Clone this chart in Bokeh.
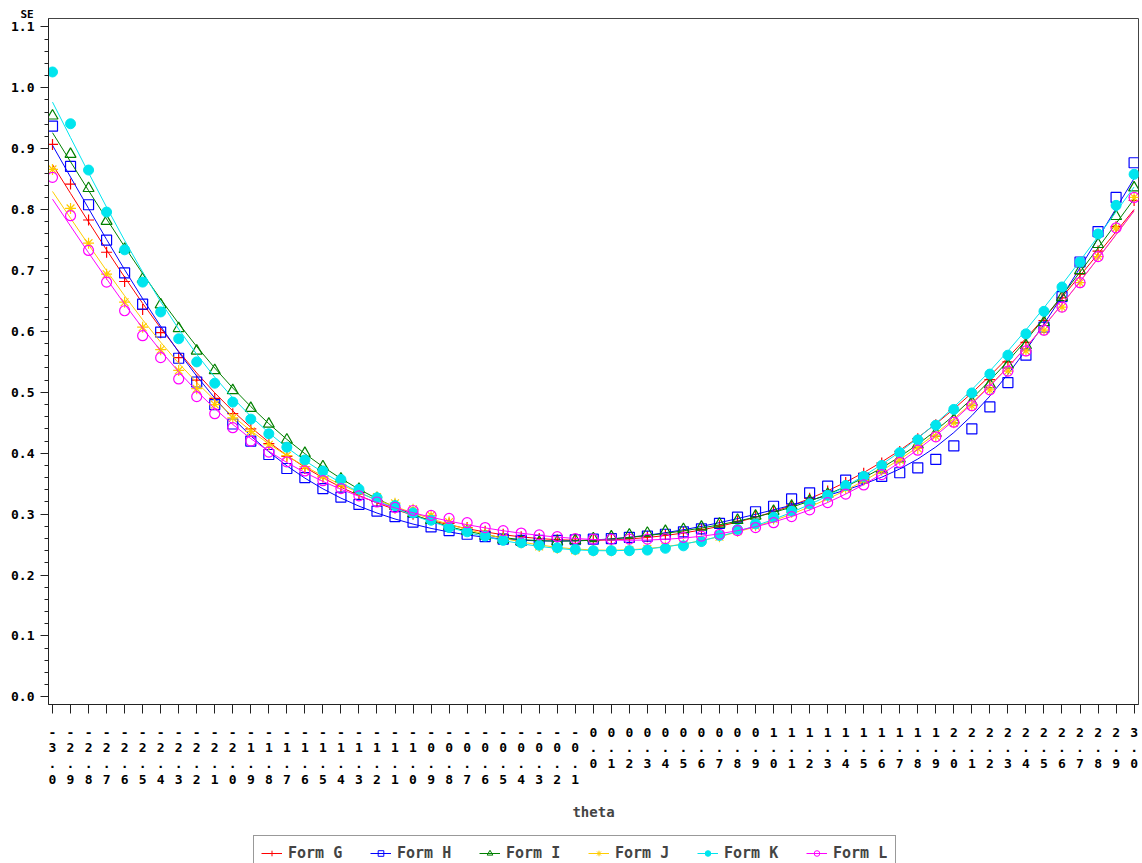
import numpy as np
from bokeh.plotting import figure
from bokeh.layouts import column
from bokeh.models import (Range1d, FixedTicker, SingleIntervalTicker, NumeralTickFormatter,
                          Legend, LegendItem, Title)
from bokeh.embed import file_html
from bokeh.resources import INLINE

theta = [round(i / 10, 1) for i in range(-30, 31)]

form_g = [0.907, 0.842, 0.783, 0.730, 0.682, 0.636, 0.598, 0.557, 0.520, 0.490,
          0.465, 0.440, 0.416, 0.395, 0.375, 0.361, 0.346, 0.333, 0.321, 0.310,
          0.300, 0.292, 0.285, 0.278, 0.272, 0.267, 0.263, 0.260, 0.258, 0.257,
          0.257, 0.258, 0.260, 0.263, 0.266, 0.270, 0.275, 0.281, 0.288, 0.296,
          0.305, 0.315, 0.326, 0.338, 0.352, 0.367, 0.384, 0.403, 0.424, 0.447,
          0.470, 0.495, 0.521, 0.550, 0.582, 0.618, 0.655, 0.694, 0.732, 0.772,
          0.815]
form_h = [0.937, 0.871, 0.808, 0.750, 0.696, 0.645, 0.599, 0.556, 0.517, 0.480,
          0.448, 0.420, 0.398, 0.375, 0.360, 0.342, 0.328, 0.316, 0.305, 0.296,
          0.287, 0.279, 0.273, 0.267, 0.263, 0.259, 0.257, 0.257, 0.257, 0.258,
          0.259, 0.260, 0.262, 0.264, 0.267, 0.271, 0.276, 0.285, 0.295, 0.304,
          0.313, 0.325, 0.335, 0.346, 0.356, 0.359, 0.362, 0.368, 0.376, 0.390,
          0.412, 0.440, 0.476, 0.516, 0.561, 0.607, 0.657, 0.714, 0.764, 0.820,
          0.877]
form_i = [0.954, 0.891, 0.835, 0.781, 0.735, 0.686, 0.644, 0.605, 0.568, 0.536,
          0.503, 0.474, 0.448, 0.422, 0.400, 0.378, 0.358, 0.341, 0.326, 0.313,
          0.301, 0.290, 0.280, 0.272, 0.264, 0.258, 0.255, 0.254, 0.255, 0.257,
          0.260, 0.263, 0.266, 0.269, 0.272, 0.275, 0.279, 0.284, 0.290, 0.297,
          0.305, 0.313, 0.322, 0.333, 0.345, 0.358, 0.373, 0.391, 0.414, 0.433,
          0.455, 0.484, 0.513, 0.545, 0.577, 0.615, 0.656, 0.700, 0.743, 0.789,
          0.836]
form_j = [0.866, 0.802, 0.745, 0.694, 0.648, 0.607, 0.570, 0.536, 0.506, 0.480,
          0.458, 0.436, 0.414, 0.396, 0.378, 0.362, 0.349, 0.338, 0.328, 0.318,
          0.308, 0.298, 0.287, 0.277, 0.268, 0.260, 0.253, 0.247, 0.244, 0.241,
          0.240, 0.240, 0.241, 0.243, 0.246, 0.250, 0.256, 0.263, 0.272, 0.281,
          0.292, 0.303, 0.315, 0.328, 0.342, 0.356, 0.372, 0.389, 0.408, 0.428,
          0.450, 0.478, 0.504, 0.535, 0.568, 0.602, 0.640, 0.680, 0.723, 0.770,
          0.820]
form_k = [1.026, 0.941, 0.865, 0.796, 0.734, 0.681, 0.632, 0.588, 0.550, 0.515,
          0.484, 0.456, 0.432, 0.410, 0.389, 0.371, 0.357, 0.341, 0.327, 0.314,
          0.302, 0.290, 0.278, 0.271, 0.264, 0.257, 0.253, 0.249, 0.245, 0.242,
          0.240, 0.240, 0.240, 0.241, 0.244, 0.248, 0.255, 0.265, 0.275, 0.284,
          0.295, 0.305, 0.317, 0.331, 0.347, 0.362, 0.380, 0.401, 0.422, 0.446,
          0.472, 0.499, 0.530, 0.561, 0.596, 0.633, 0.673, 0.714, 0.760, 0.807,
          0.858]
form_l = [0.853, 0.790, 0.733, 0.681, 0.634, 0.593, 0.557, 0.522, 0.493, 0.465,
          0.442, 0.420, 0.402, 0.386, 0.371, 0.355, 0.342, 0.330, 0.320, 0.311,
          0.306, 0.298, 0.293, 0.286, 0.278, 0.273, 0.269, 0.266, 0.263, 0.260,
          0.259, 0.259, 0.259, 0.259, 0.260, 0.262, 0.264, 0.267, 0.273, 0.278,
          0.286, 0.296, 0.307, 0.319, 0.333, 0.348, 0.365, 0.385, 0.405, 0.427,
          0.451, 0.478, 0.504, 0.535, 0.568, 0.602, 0.640, 0.680, 0.723, 0.770,
          0.820]

names = ["Form G", "Form H", "Form I", "Form J", "Form K", "Form L"]
colors = ["#FF0000", "#0000FF", "#008000", "#FFCC00", "#00E5EE", "#FF00FF"]
series = [form_g, form_h, form_i, form_j, form_k, form_l]

SMOOTH_LAMBDA = 100.0
FONT = "DejaVu Sans Mono"


def smooth(y, lam):
    """Penalised smoothing (spline-like) of each form's plotted values."""
    y = np.asarray(y, dtype=float)
    n = len(y)
    d = np.diff(np.eye(n), 2, axis=0)
    return np.linalg.solve(np.eye(n) + lam * d.T @ d, y)


p = figure(width=1142, height=833, output_backend="svg", toolbar_location=None,
           x_range=Range1d(-3.0222, 3.0244), y_range=Range1d(-0.0125, 1.1138),
           min_border_left=48, min_border_right=4, min_border_top=18,
           min_border_bottom=129)
p.outline_line_color = "#444444"
p.outline_line_width = 1
p.xgrid.visible = False
p.ygrid.visible = False
p.background_fill_color = "white"
p.border_fill_color = "white"

# "SE" caption at the top-left, next to the y axis
p.title = Title(text="SE", align="left", offset=-28, standoff=-5,
                text_font=FONT, text_font_style="bold", text_font_size="11px",
                text_color="black")

# y axis
yax = p.yaxis[0]
yax.ticker = SingleIntervalTicker(interval=0.1, num_minor_ticks=5)
yax.formatter = NumeralTickFormatter(format="0.0")
yax.major_tick_out = 8
yax.major_tick_in = 0
yax.minor_tick_out = 4
yax.minor_tick_in = 0
yax.major_label_standoff = 6
yax.major_label_text_font = FONT
yax.major_label_text_font_style = "bold"
yax.major_label_text_font_size = "13px"
yax.major_label_text_color = "black"
yax.axis_line_color = "#222222"
yax.major_tick_line_color = "#222222"
yax.minor_tick_line_color = "#222222"

# x axis
xax = p.xaxis[0]
xax.ticker = FixedTicker(ticks=theta, minor_ticks=[])
xax.major_label_overrides = {t: "\n".join(f"{t:.1f}") for t in theta}
xax.major_tick_out = 9
xax.major_tick_in = 0
xax.minor_tick_out = 0
xax.major_label_standoff = 11
xax.major_label_text_font = FONT
xax.major_label_text_font_style = "bold"
xax.major_label_text_font_size = "13px"
xax.major_label_text_line_height = 1.06
xax.major_label_text_color = "black"
xax.axis_line_color = "#222222"
xax.major_tick_line_color = "#222222"
xax.axis_label = "theta"
xax.axis_label_text_font = FONT
xax.axis_label_text_font_style = "bold"
xax.axis_label_text_font_size = "14px"
xax.axis_label_standoff = 14

# legend strip below the chart (its data lie outside its ranges; only the
# legend samples are seen)
pl = figure(width=1142, height=30, output_backend="svg", toolbar_location=None,
            x_range=Range1d(10, 11), y_range=Range1d(10, 11),
            x_axis_location=None, y_axis_location=None,
            min_border_left=0, min_border_right=0, min_border_top=0, min_border_bottom=0)
pl.outline_line_color = None
pl.xgrid.visible = False
pl.ygrid.visible = False
pl.background_fill_color = "white"
pl.border_fill_color = "white"

markers = ["cross", "square", "triangle", "asterisk", "circle", "circle"]
sizes = [11, 10, 11, 11, 10, 10]
items = []
for name, col, vals, mk, sz in zip(names, colors, series, markers, sizes):
    p.line(theta, smooth(vals, SMOOTH_LAMBDA), line_color=col, line_width=1)
    filled = name == "Form K"
    p.scatter(theta, vals, marker=mk, size=sz, fill_color=col if filled else None,
              line_color=col, line_width=1 if filled else 1.2)
    lr = pl.line(theta, vals, line_color=col, line_width=1)
    sr = pl.scatter(theta, vals, marker=mk, size=7, fill_color=col if filled else None,
                    line_color=col, line_width=1)
    items.append(LegendItem(label=name, renderers=[lr, sr]))

legend = Legend(items=items, orientation="horizontal", location=(205, -8),
                padding=7, spacing=27, glyph_width=21, glyph_height=14,
                label_standoff=6, label_width=55, label_height=20, margin=0,
                label_text_font=FONT, label_text_font_style="bold",
                label_text_font_size="15px",
                border_line_color="#333333", border_line_width=1,
                background_fill_color="white", background_fill_alpha=1.0)
pl.add_layout(legend)

layout = column(p, pl, spacing=0)
open("out.html", "w").write(file_html(layout, INLINE))
